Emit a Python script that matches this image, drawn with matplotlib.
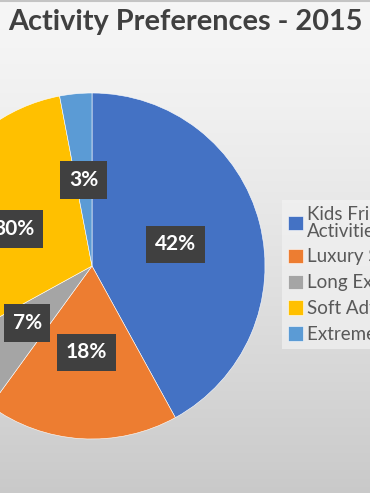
import matplotlib.pyplot as plt
import numpy as np

# data
activities = ['Kids Friendly\nActivities', 'Luxury Stays', 'Long Excursions',
              'Soft Adventure', 'Extreme Sports']
shares = [42, 18, 7, 30, 3]
colors = ['#4472C4', '#ED7D31', '#A5A5A5', '#FFC000', '#5B9BD5']
title = 'Activity Preferences - 2015'

plt.rcParams['font.family'] = ['Lato', 'DejaVu Sans']

W, H = 370, 493
fig = plt.figure(figsize=(W / 100, H / 100), dpi=100)

# background gradient
bg = fig.add_axes([0, 0, 1, 1], zorder=-1)
grad = np.linspace(0, 1, 256).reshape(-1, 1)
top = np.array([0.965, 0.965, 0.965])
bot = np.array([0.79, 0.79, 0.79])
img = top + (bot - top) * grad[..., None] ** 1.3
bg.imshow(img, aspect='auto', extent=[0, 1, 0, 1], origin='upper')
bg.axhline(0.998, color='#c4c4c4', lw=1.5)
bg.set_xlim(0, 1)
bg.set_ylim(0, 1)
bg.axis('off')

ax = fig.add_axes([0, 0, 1, 1])
ax.patch.set_alpha(0)
wedges, texts, autotexts = ax.pie(
    shares, colors=colors, startangle=90, counterclock=False,
    center=(92, H - 266), radius=173, autopct='%1.0f%%', pctdistance=0.5,
    wedgeprops=dict(edgecolor='white', linewidth=0.4),
    textprops=dict(color='white', fontsize=15, fontweight='bold'))
for t in autotexts:
    t.set_bbox(dict(boxstyle='square,pad=0.42', facecolor='#404040',
                    edgecolor='none'))
ax.set_xlim(0, W)
ax.set_ylim(0, H)
ax.set_aspect('equal')
ax.axis('off')

ax.text(185, H - 22, title, ha='center', va='center', fontsize=20.8,
        fontweight='bold', color='#404040')

leg = ax.legend(wedges, activities, loc='upper left',
                bbox_to_anchor=(282, H - 200), bbox_transform=ax.transData,
                fontsize=13.5, frameon=True, facecolor='#f2f2f2',
                edgecolor='none', framealpha=0.7, fancybox=False,
                handlelength=0.8, handleheight=0.8, handletextpad=0.25,
                labelspacing=0.47, borderpad=0.3, borderaxespad=0)
for t in leg.get_texts():
    t.set_color('#595959')
    t.set_linespacing(1.0)

fig.savefig('out.png', dpi=100)
